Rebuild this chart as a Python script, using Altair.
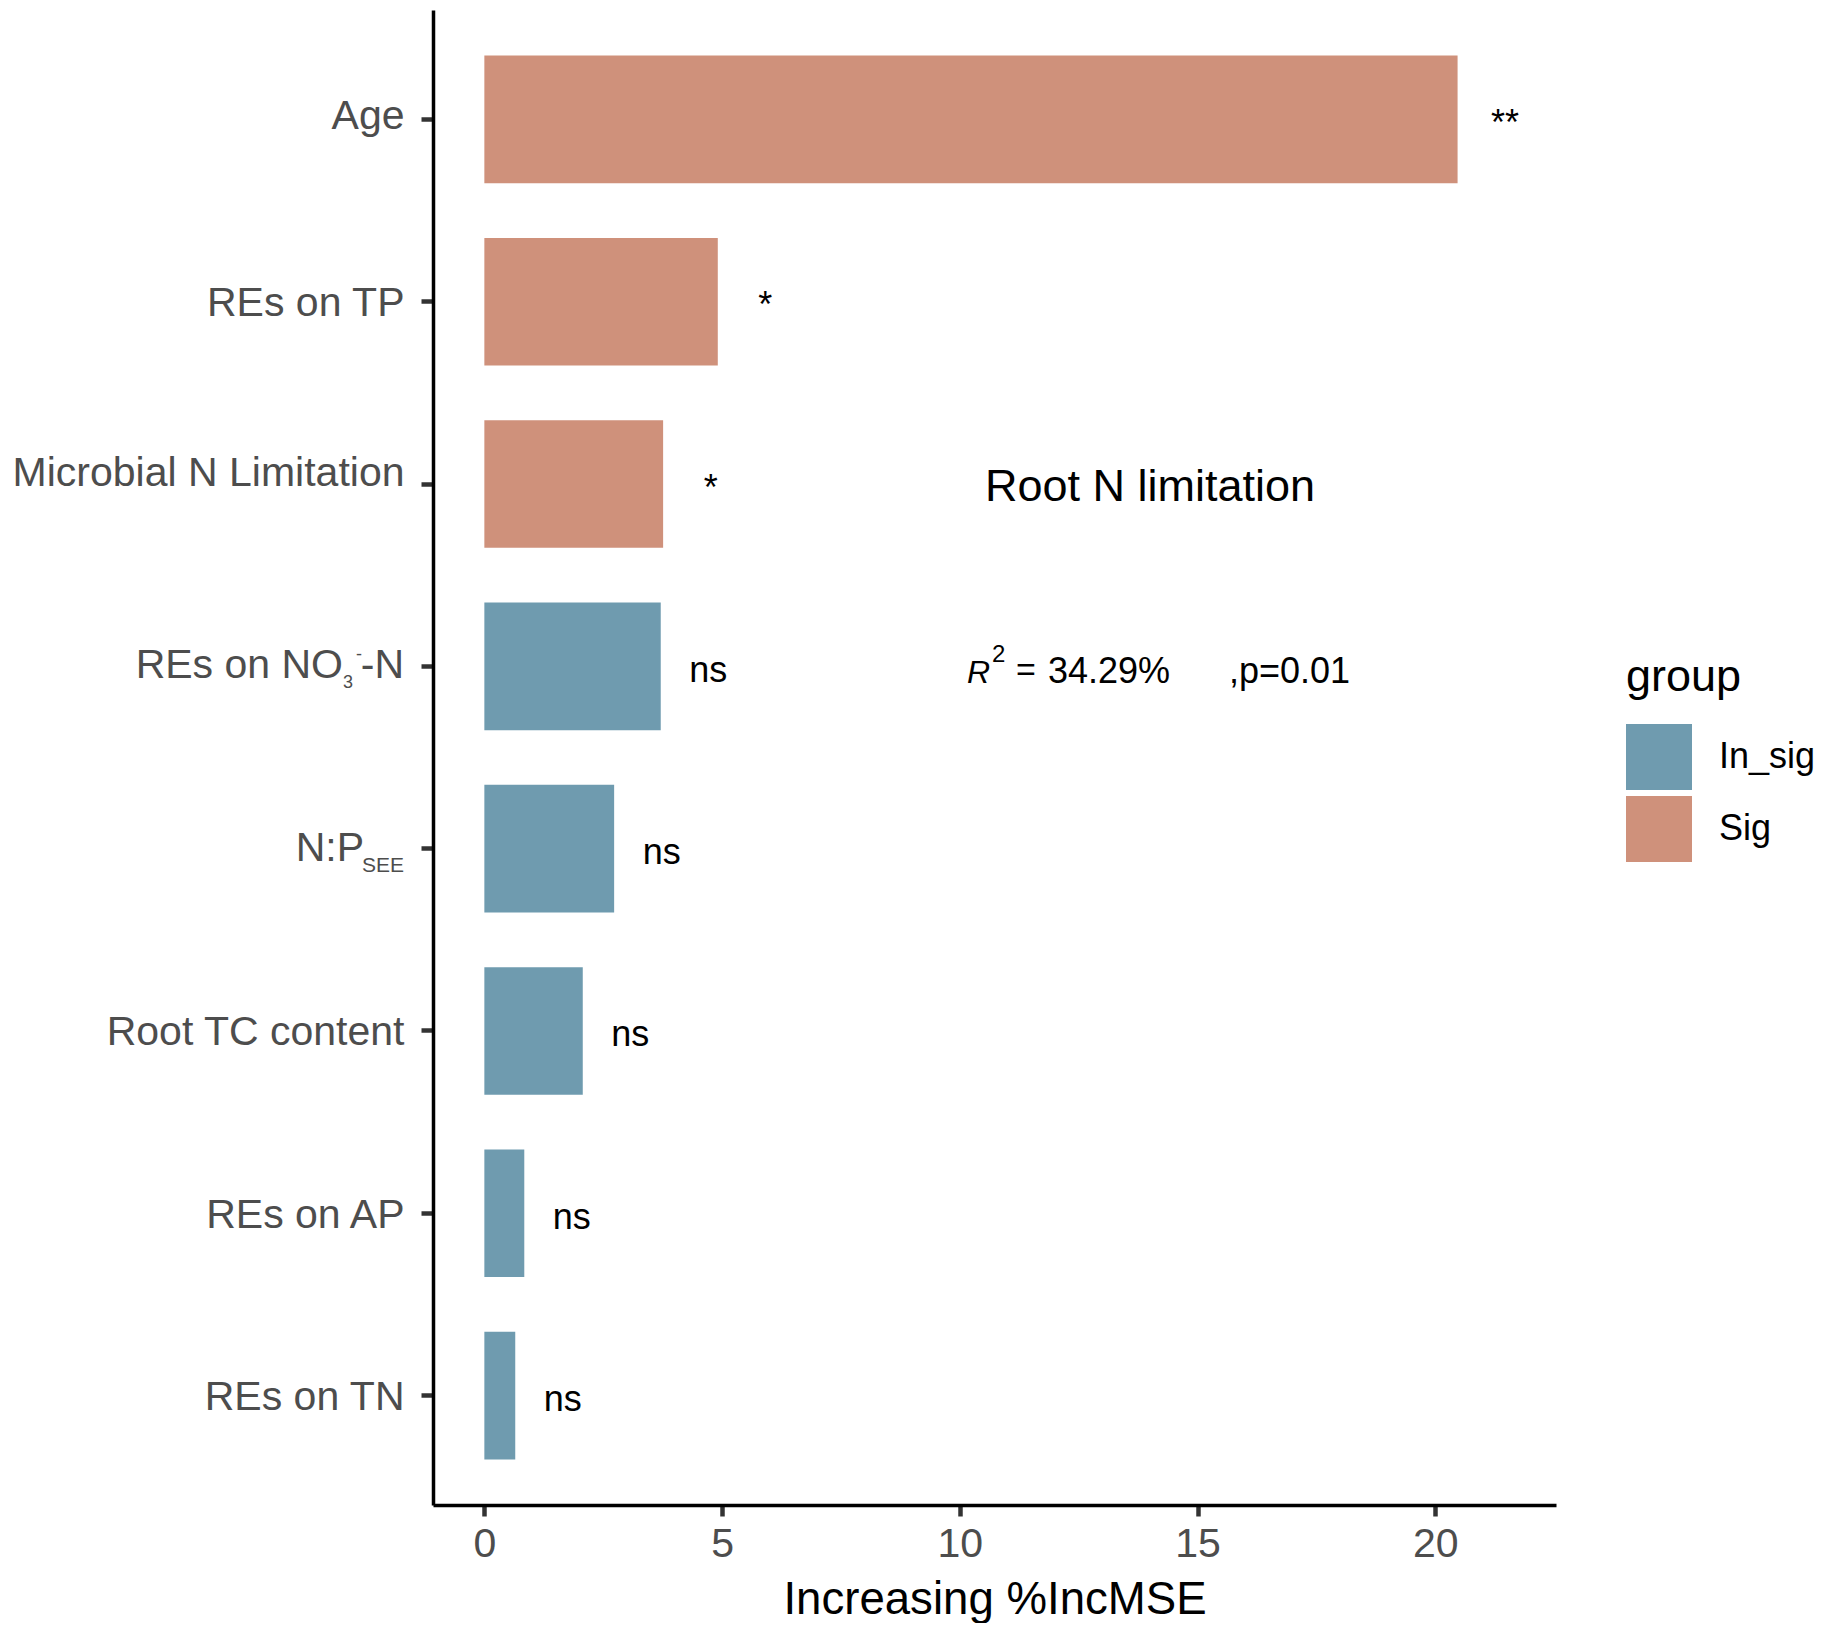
import altair as alt
import pandas as pd

FONT = "Liberation Sans"

# ---- data ----
features = ["Age", "REs on TP", "Microbial N Limitation", "REs on NO3-N",
            "N:P_SEE", "Root TC content", "REs on AP", "REs on TN"]
values = [20.47, 4.91, 3.76, 3.71, 2.73, 2.07, 0.84, 0.65]
groups = ["Sig", "Sig", "Sig", "In_sig", "In_sig", "In_sig", "In_sig", "In_sig"]
sig_marks = ["**", "*", "*", "ns", "ns", "ns", "ns", "ns"]

group_domain = ["In_sig", "Sig"]
group_colors = ["#6F9BAF", "#CF917B"]
x_ticks = [0, 5, 10, 15, 20]

# special labels drawn piecewise (sub/superscripts)
NO3_MAIN, NO3_SUB, NO3_SUP, NO3_TAIL = "REs on NO", "3", "-", "-N"
NP_MAIN, NP_SUB = "N:P", "SEE"
TITLE_TXT = "Root N limitation"
R_TXT, R_SUP, EQ_TXT, R_VAL, P_TXT = "R", "2", "=", "34.29%", ",p=0.01"

df = pd.DataFrame({"feature": features, "value": values,
                   "group": groups, "sig": sig_marks})

W, H = 1123, 1495

x_scale = alt.Scale(domain=[-1.08, 22.54], nice=False, zero=False)
y_scale = alt.Scale(paddingInner=0.3, paddingOuter=0.25)

x_axis = alt.Axis(values=x_ticks, title="Increasing %IncMSE", grid=False,
                  domainColor="black", domainWidth=3.5,
                  tickColor="#333333", tickWidth=4.5, tickSize=11,
                  labelFontSize=41, labelColor="#4D4D4D", labelFont=FONT,
                  labelPadding=8, titleFontSize=45.6, titleColor="black",
                  titleFont=FONT, titleFontWeight="normal", titlePadding=13)

y_axis = alt.Axis(title=None, grid=False, domainColor="black", domainWidth=3.5,
                  tickColor="#333333", tickWidth=4.5, tickSize=12,
                  labelFontSize=41, labelColor="#4D4D4D", labelFont=FONT,
                  labelPadding=17, labelBaseline="alphabetic", labelLimit=0,
                  labelOffset={"condition": [
                      {"test": "datum.value === 'Age'", "value": 10},
                      {"test": "datum.value === 'Microbial N Limitation'", "value": 1.5}],
                      "value": 14.5},
                  labelExpr="datum.value === 'REs on NO3-N' || datum.value === 'N:P_SEE' ? '' : datum.label")

Y = alt.Y("feature:N", sort=features, scale=y_scale, axis=y_axis)

base = alt.Chart(df)

bars = base.mark_bar().encode(
    x=alt.X("value:Q", scale=x_scale, axis=x_axis),
    y=Y,
    color=alt.Color("group:N",
                    scale=alt.Scale(domain=group_domain, range=group_colors),
                    legend=alt.Legend(orient="none", legendX=1193, legendY=645,
                                      title="group", titleFontSize=45,
                                      titleFont=FONT, titleColor="black",
                                      titleFontWeight="normal", titlePadding=24,
                                      labelFontSize=36, labelFont=FONT,
                                      labelColor="black", labelOffset=27,
                                      symbolType="square", symbolSize=4356,
                                      symbolStrokeWidth=0, rowPadding=6,
                                      padding=0, symbolOpacity=1)),
)

sig_text = base.transform_calculate(lx="datum.value + 1").mark_text(
    align="center", baseline="alphabetic", dy=15.5, fontSize=36,
    font=FONT, color="black"
).encode(
    x=alt.X("lx:Q", scale=x_scale, axis=x_axis),
    y=Y,
    text="sig:N",
)

no3 = base.transform_filter(alt.datum.feature == "REs on NO3-N")
np_ = base.transform_filter(alt.datum.feature == "N:P_SEE")

lab_style = dict(baseline="alphabetic", font=FONT, color="#4D4D4D")

no3_main = no3.mark_text(align="right", dy=12, fontSize=41, text=NO3_MAIN,
                         **lab_style).encode(x=alt.value(-90), y=Y)
no3_sub = no3.mark_text(align="left", dy=22, fontSize=18, text=NO3_SUB,
                        **lab_style).encode(x=alt.value(-90), y=Y)
no3_sup = no3.mark_text(align="left", dy=-6, fontSize=18, text=NO3_SUP,
                        **lab_style).encode(x=alt.value(-77), y=Y)
no3_tail = no3.mark_text(align="right", dy=12, fontSize=41, text=NO3_TAIL,
                         **lab_style).encode(x=alt.value(-29), y=Y)
np_main = np_.mark_text(align="right", dy=12.7, fontSize=41, text=NP_MAIN,
                        **lab_style).encode(x=alt.value(-69), y=Y)
np_sub = np_.mark_text(align="right", dy=23, fontSize=21, text=NP_SUB,
                       **lab_style).encode(x=alt.value(-29), y=Y)

one = pd.DataFrame({"k": [0]})
ann = alt.Chart(one)
ann_style = dict(baseline="alphabetic", font=FONT, color="black")

title_ann = ann.mark_text(align="center", dy=16.5, fontSize=45, text=TITLE_TXT,
                          **ann_style).encode(
    x=alt.datum(14, scale=x_scale), y=alt.datum("Microbial N Limitation"))

r_anchor = dict(x=alt.datum(10.15), y=alt.datum("REs on NO3-N"))
r_main = ann.mark_text(align="left", dy=17, fontSize=32, fontStyle="italic",
                       text=R_TXT, **ann_style).encode(**r_anchor)
r_sup = ann.mark_text(align="left", dx=25, dy=-4, fontSize=24, text=R_SUP,
                      **ann_style).encode(**r_anchor)
r_eq = ann.mark_text(align="left", dx=49, dy=15, fontSize=34, text=EQ_TXT,
                     **ann_style).encode(**r_anchor)
r_val = ann.mark_text(align="left", dx=81, dy=17, fontSize=36, text=R_VAL,
                      **ann_style).encode(**r_anchor)
p_txt = ann.mark_text(align="left", dy=17, fontSize=36, text=P_TXT,
                      **ann_style).encode(x=alt.datum(15.66),
                                          y=alt.datum("REs on NO3-N"))

chart = alt.layer(
    bars, sig_text, no3_main, no3_sub, no3_sup, no3_tail, np_main, np_sub,
    title_ann, r_main, r_sup, r_eq, r_val, p_txt
).properties(
    width=W, height=H,
    padding={"left": 4, "top": 2, "right": 0, "bottom": 0},
    background="white",
).configure(font=FONT).configure_view(stroke="transparent", strokeWidth=0)

chart.save("out.html", embed_options={"renderer": "svg", "actions": False})
